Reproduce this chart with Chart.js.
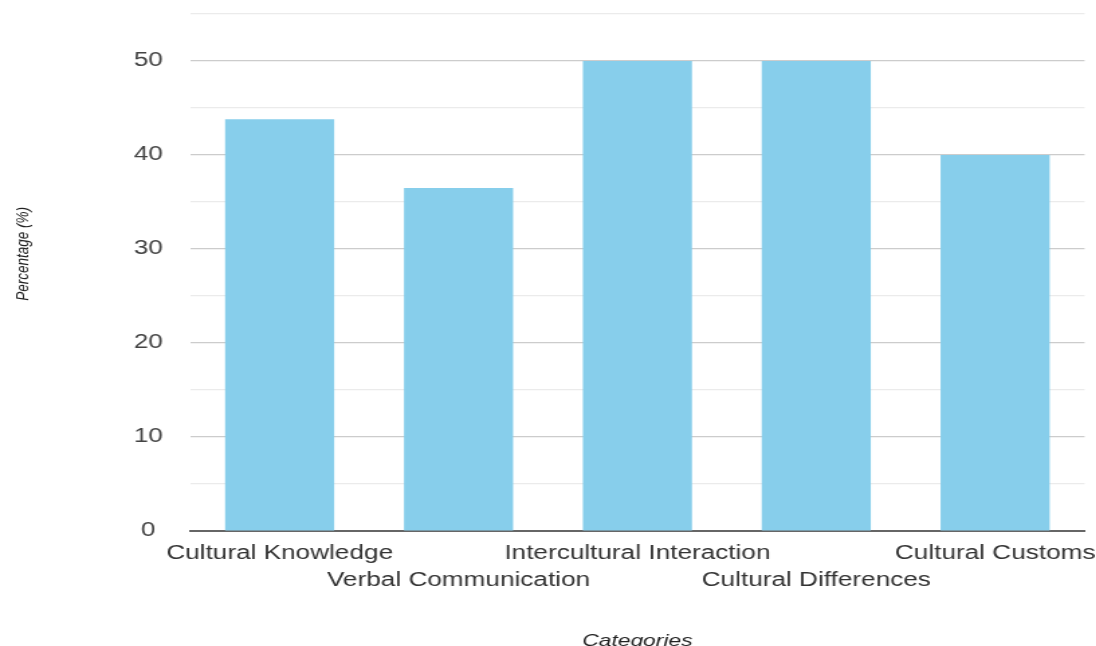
<!DOCTYPE html>
<html>
<head>
<meta charset="utf-8">
<script src="https://cdn.jsdelivr.net/npm/chart.js@4"></script>
<style>
  html, body { margin: 0; padding: 0; overflow: hidden; background: #fff; }
  #wrap { width: 816.5px; height: 651px; transform: scaleX(1.34); transform-origin: 0 0; }
</style>
</head>
<body>
<div id="wrap"><canvas id="bar_chart"></canvas></div>
<script>
// chart data
const categories = ['Cultural Knowledge', 'Verbal Communication', 'Intercultural Interaction', 'Cultural Differences', 'Cultural Customs'];
const percentages = [43.8, 36.5, 50, 50, 40];
const yTicks = [0, 10, 20, 30, 40, 50];

// staggered labels: every other one goes on a second row
const labels = categories.map((c, i) => i % 2 === 0 ? [c] : ['', c]);

const ctx = document.getElementById('bar_chart').getContext('2d');
const chart = new Chart(ctx, {
  type: 'bar',
  data: {
    labels: labels,
    datasets: [{
      label: 'Percentage',
      data: percentages,
      backgroundColor: '#87CEEB',
      borderWidth: 0,
      categoryPercentage: 1.0,
      barPercentage: 0.61
    }]
  },
  options: {
    responsive: true,
    maintainAspectRatio: false,
    animation: false,
    layout: { padding: { top: 14, left: 0, right: 0, bottom: 0 } },
    plugins: {
      legend: { display: false },
      tooltip: { enabled: false }
    },
    scales: {
      x: {
        // invisible tick marks just make room under the axis
        grid: { display: true, drawOnChartArea: false, drawTicks: true, tickLength: 9.5, color: 'rgba(0,0,0,0)' },
        border: { display: true, color: '#666', width: 2 },
        ticks: {
          autoSkip: false,
          maxRotation: 0,
          minRotation: 0,
          padding: 0,
          color: '#333',
          font: { family: '"Liberation Sans", Arial, sans-serif', size: 19.5, lineHeight: 27 / 19.5 }
        },
        title: {
          display: true,
          text: 'Categories',
          color: '#222',
          padding: { top: 36, bottom: 0 },
          font: { family: '"Liberation Sans", Arial, sans-serif', size: 17, style: 'italic', lineHeight: 1.2 }
        }
      },
      y: {
        min: 0,
        max: 55,
        border: { display: false },
        grid: {
          drawTicks: true,
          tickLength: 20.4,
          tickColor: 'rgba(0,0,0,0)',
          color: (c) => c.tick.value === 0 ? 'rgba(0,0,0,0)' : (yTicks.includes(c.tick.value) ? '#cccccc' : '#ebebeb'),
          lineWidth: 1.2
        },
        ticks: {
          stepSize: 5,
          padding: 0,
          crossAlign: 'center',
          color: '#444',
          font: { family: '"Liberation Sans", Arial, sans-serif', size: 19.5, lineHeight: 1.2 },
          callback: (v) => yTicks.includes(v) ? String(v) : ''
        },
        title: {
          display: true,
          text: '          Percentage (%)',
          color: '#222',
          padding: { top: 8.9, bottom: 74.6 },
          font: { family: '"Liberation Sans", Arial, sans-serif', size: 13.5, style: 'italic', lineHeight: 1.2 }
        }
      }
    }
  }
});
</script>
</body>
</html>
